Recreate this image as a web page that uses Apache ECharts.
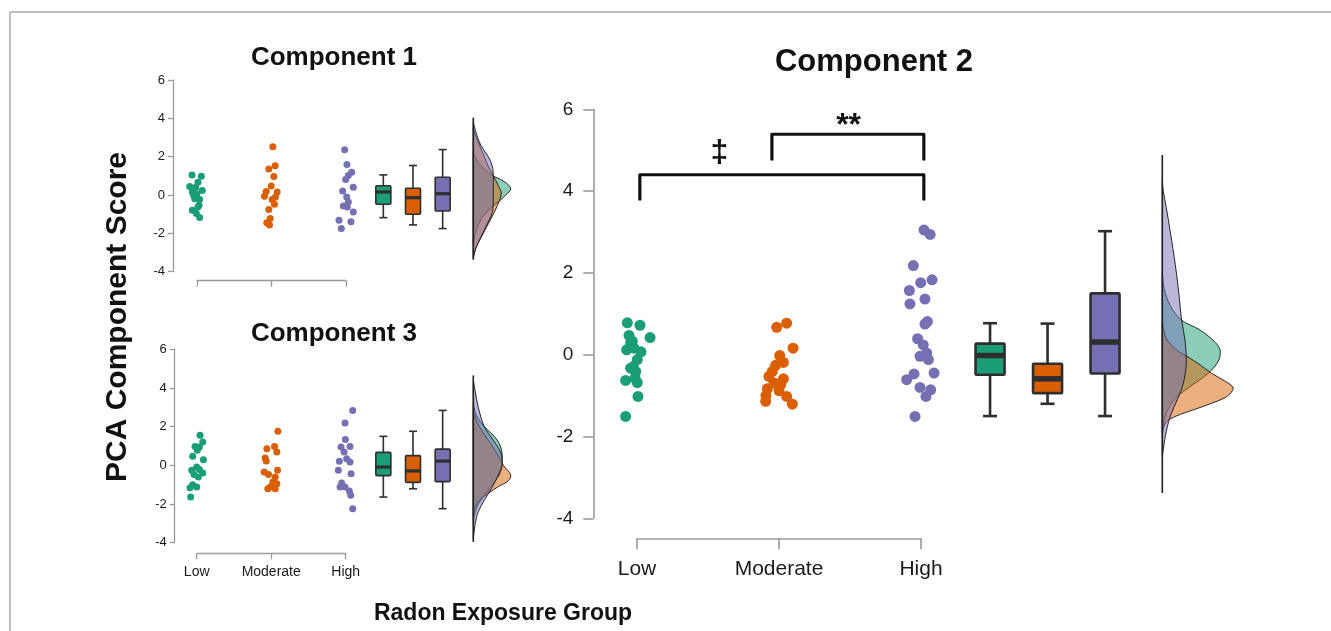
<!DOCTYPE html>
<html>
<head>
<meta charset="utf-8">
<script src="https://cdn.jsdelivr.net/npm/echarts@6/dist/echarts.min.js"></script>
<style>
html,body{margin:0;padding:0;background:#fff}
#main{width:1331px;height:631px}
</style>
</head>
<body>
<div id="main"></div>
<script>
var groups = ['Low', 'Moderate', 'High'];
var groupColors = ['#1b9e77', '#d95f02', '#7570b3'];
var densFill = ['rgba(27,158,119,0.5)', 'rgba(217,95,2,0.5)', 'rgba(117,112,179,0.5)'];
var yMin = -4, yMax = 6, yStep = 2;

// Component 1 - scores and horizontal jitter
var c1Low = [1.05, 0.98, 0.67, 0.45, 0.41, 0.24, 0.16, 0.07, -0.02, -0.19, -0.24, -0.53, -0.62, -0.79, -0.97, -1.17];
var c1LowJit = [-0.067, 0.058, 0.013, -0.098, -0.018, 0.071, -0.063, 0, -0.045, -0.031, 0.036, 0.027, 0.013, -0.063, -0.009, 0.036];
var c1Mod = [2.52, 1.53, 1.36, 0.97, 0.47, 0.19, 0.16, -0.07, -0.10, -0.24, -0.48, -0.76, -1.22, -1.45, -1.57];
var c1ModJit = [0.018, 0.049, -0.036, 0.031, -0.004, -0.071, 0.076, -0.094, 0.054, 0.009, 0.040, -0.036, -0.018, -0.063, -0.027];
var c1High = [2.36, 1.59, 1.19, 1.02, 0.81, 0.41, 0.21, -0.10, -0.36, -0.57, -0.62, -0.88, -1.31, -1.40, -1.74];
var c1HighJit = [-0.018, 0.013, 0.076, 0.031, -0.004, 0.098, -0.045, 0.009, 0.031, -0.036, 0.018, 0.098, -0.094, 0.067, -0.063];
// min, q1, median, q3, max
var c1BoxLow = [-1.18, -0.48, 0.16, 0.48, 1.05];
var c1BoxMod = [-1.56, -1.0, -0.14, 0.35, 1.54];
var c1BoxHigh = [-1.75, -0.83, 0.07, 0.93, 2.37];
// [score, density]
var c1DensLow = [[2.2,0],[1.7,0.1],[1.1,0.33],[0.7,0.62],[0.33,0.75],[0,0.65],[-0.36,0.5],[-0.8,0.3],[-1.3,0.15],[-2,0.04],[-2.6,0]];
var c1DensMod = [[3.5,0],[3.0,0.06],[2.5,0.14],[2.0,0.22],[1.5,0.3],[1.0,0.4],[0.5,0.5],[0.1,0.56],[-0.3,0.52],[-0.9,0.42],[-1.5,0.3],[-2.1,0.18],[-2.7,0.06],[-3.2,0]];
var c1DensHigh = [[3.8,0],[3.3,0.05],[2.6,0.15],[2.0,0.3],[1.5,0.38],[1.0,0.4],[0.3,0.4],[-0.3,0.4],[-0.9,0.38],[-1.5,0.28],[-2.2,0.15],[-2.8,0.05],[-3.3,0]];
var c1Spine = [-3.38, 4.04];

// Component 3
var c3Low = [1.55, 1.21, 0.98, 0.95, 0.78, 0.47, 0.29, -0.09, -0.22, -0.26, -0.40, -0.47, -0.60, -1.00, -1.12, -1.16, -1.64];
var c3LowJit = [0.045, 0.081, -0.022, 0.036, 0.009, -0.054, 0.090, 0, 0.036, -0.067, 0.081, -0.036, 0.022, -0.054, 0, -0.090, -0.081];
var c3Mod = [1.76, 0.98, 0.86, 0.69, 0.38, 0.22, -0.26, -0.34, -0.47, -0.60, -0.86, -0.95, -1.12, -1.21, -1.21];
var c3ModJit = [0.090, 0.045, -0.058, 0.076, -0.081, -0.067, 0.085, -0.094, -0.036, 0.054, 0.022, 0.076, -0.013, -0.045, 0.054];
var c3High = [2.84, 2.19, 1.34, 0.98, 0.95, 0.69, 0.34, 0.21, 0.17, -0.26, -0.43, -0.91, -1.12, -1.12, -1.33, -1.55, -2.24];
var c3HighJit = [0.094, -0.009, -0.004, 0.058, -0.063, -0.022, 0.013, -0.085, 0.058, -0.099, 0.072, -0.054, -0.009, -0.076, 0.049, 0.067, 0.094];
var c3BoxLow = [-1.64, -0.53, -0.09, 0.67, 1.5];
var c3BoxMod = [-1.21, -0.88, -0.29, 0.5, 1.76];
var c3BoxHigh = [-2.24, -0.84, 0.22, 0.84, 2.84];
var c3DensLow = [[3.2,0],[2.6,0.06],[2.0,0.22],[1.5,0.42],[1.0,0.54],[0.5,0.58],[0,0.58],[-0.5,0.52],[-1.0,0.38],[-1.5,0.24],[-2.0,0.1],[-2.6,0.02],[-3.0,0]];
var c3DensMod = [[2.8,0],[2.2,0.08],[1.6,0.22],[1.0,0.38],[0.5,0.5],[0,0.6],[-0.5,0.75],[-0.8,0.7],[-1.1,0.5],[-1.45,0.3],[-1.8,0.12],[-2.2,0.03],[-2.6,0]];
var c3DensHigh = [[4.4,0],[3.8,0.04],[3.0,0.1],[2.0,0.22],[1.3,0.4],[0.7,0.54],[0.1,0.58],[-0.5,0.5],[-1.2,0.36],[-1.8,0.22],[-2.4,0.1],[-3.0,0.04],[-3.8,0]];
var c3Spine = [-3.96, 4.65];

// Component 2
var c2Low = [0.78, 0.72, 0.47, 0.42, 0.33, 0.29, 0.16, 0.12, 0.07, -0.12, -0.29, -0.33, -0.41, -0.57, -0.63, -0.68, -1.02, -1.51];
var c2LowJit = [-0.068, 0.021, -0.056, 0.092, -0.033, -0.045, -0.021, -0.073, 0.028, 0.002, -0.026, -0.045, -0.009, -0.014, -0.080, 0.002, 0.007, -0.080];
var c2Mod = [0.77, 0.67, 0.16, -0.02, -0.19, -0.26, -0.41, -0.53, -0.59, -0.69, -0.73, -0.83, -0.88, -1.00, -1.02, -1.14, -1.21];
var c2ModJit = [0.054, -0.016, 0.099, 0.005, 0.031, -0.024, -0.047, -0.071, 0.031, -0.035, 0.012, -0.082, 0, -0.092, 0.054, -0.094, 0.094];
var c2High = [3.05, 2.94, 2.18, 1.83, 1.76, 1.57, 1.36, 1.24, 0.81, 0.75, 0.39, 0.24, 0.04, -0.04, -0.12, -0.45, -0.47, -0.61, -0.80, -0.86, -1.02, -1.51];
var c2HighJit = [0.021, 0.064, -0.054, 0.078, -0.002, -0.082, 0.028, -0.078, 0.045, 0.028, -0.024, 0.016, 0.040, -0.007, 0.052, 0.092, -0.049, -0.101, -0.007, 0.068, 0.035, -0.042];
var c2BoxLow = [-1.5, -0.49, -0.02, 0.27, 0.77];
var c2BoxMod = [-1.2, -0.94, -0.59, -0.22, 0.76];
var c2BoxHigh = [-1.5, -0.46, 0.31, 1.5, 3.02];
var c2DensLow = [[2.0,0],[1.6,0.02],[1.2,0.08],[0.85,0.19],[0.6,0.38],[0.3,0.53],[0.1,0.58],[-0.1,0.57],[-0.33,0.51],[-0.57,0.4],[-0.81,0.26],[-1.1,0.12],[-1.5,0.03],[-2.0,0]];
var c2DensMod = [[0.8,0],[0.4,0.04],[0.1,0.15],[0,0.22],[-0.2,0.35],[-0.45,0.49],[-0.65,0.63],[-0.81,0.71],[-0.95,0.68],[-1.06,0.62],[-1.2,0.48],[-1.34,0.32],[-1.5,0.14],[-1.65,0.04],[-1.9,0]];
var c2DensHigh = [[4.3,0],[4.0,0.01],[3.6,0.04],[3.0,0.08],[2.2,0.13],[1.4,0.17],[0.9,0.19],[0.3,0.23],[-0.2,0.24],[-0.7,0.21],[-1.1,0.15],[-1.5,0.08],[-2.0,0.03],[-2.5,0]];
var c2Spine = [-3.38, 4.88];

// significance brackets on component 2 (x in group units, y in score units)
var brLeft = [1.02, 1.95];
var brRight = [3.02, 3.02];
var brTop = [4.40, 5.39];
var brFoot = [3.77, 4.75];
var brMark = ['\u2021', '**'];
var brMarkX = [1.58, 2.49];
var brMarkY = [4.92, 5.58];

var FONT = '"Liberation Sans", Arial, sans-serif';

// layout of the three panels
var panels = [
  { scatter: {left: 197, top: 80, width: 149, height: 191.7}, yOff: 24, xOff: 9,
    boxLeft: 368.5, boxW: 89, densLeft: 473.3, densW: 50,
    dot: 7, tickFont: 13, xLabels: false, tickLen: 5, axisW: 1.3, lblMargin: 8,
    boxPx: 15, capPx: 8, boxLw: 1.6, medLw: 3.2,
    data: [[c1Low, c1LowJit], [c1Mod, c1ModJit], [c1High, c1HighJit]],
    box: [c1BoxLow, c1BoxMod, c1BoxHigh], dens: [c1DensLow, c1DensMod, c1DensHigh], spine: c1Spine },
  { scatter: {left: 196.7, top: 349.3, width: 149, height: 193.4}, yOff: 22, xOff: 10.6,
    boxLeft: 368.5, boxW: 89, densLeft: 473.3, densW: 50,
    dot: 7, tickFont: 13, xLabels: true, xFont: 14, tickLen: 5, axisW: 1.3, lblMargin: 8, xMargin: 12,
    boxPx: 15, capPx: 8, boxLw: 1.6, medLw: 3.2,
    data: [[c3Low, c3LowJit], [c3Mod, c3ModJit], [c3High, c3HighJit]],
    box: [c3BoxLow, c3BoxMod, c3BoxHigh], dens: [c3DensLow, c3DensMod, c3DensHigh], spine: c3Spine },
  { scatter: {left: 637, top: 109.3, width: 284, height: 409}, yOff: 43.7, xOff: 20,
    boxLeft: 961.3, boxW: 172.5, densLeft: 1162.3, densW: 100,
    dot: 11, tickFont: 19, xLabels: true, xFont: 21, tickLen: 10, axisW: 1.6, lblMargin: 20, xMargin: 20,
    boxPx: 29, capPx: 14, boxLw: 2.6, medLw: 5.5,
    data: [[c2Low, c2LowJit], [c2Mod, c2ModJit], [c2High, c2HighJit]],
    box: [c2BoxLow, c2BoxMod, c2BoxHigh], dens: [c2DensLow, c2DensMod, c2DensHigh], spine: c2Spine }
];

var grids = [], xAxes = [], yAxes = [], series = [];

function boxRenderer(p) {
  return function (params, api) {
    var x = api.value(0);
    var pMin = api.coord([x, api.value(1)]);
    var pQ1 = api.coord([x, api.value(2)]);
    var pMed = api.coord([x, api.value(3)]);
    var pQ3 = api.coord([x, api.value(4)]);
    var pMax = api.coord([x, api.value(5)]);
    var cx = pMin[0];
    var st = {stroke: '#2e2e2e', lineWidth: p.boxLw, fill: null};
    var hb = p.boxPx / 2, hc = p.capPx / 2;
    return {
      type: 'group',
      children: [
        {type: 'line', shape: {x1: cx, y1: pMax[1], x2: cx, y2: pQ3[1]}, style: st},
        {type: 'line', shape: {x1: cx, y1: pQ1[1], x2: cx, y2: pMin[1]}, style: st},
        {type: 'line', shape: {x1: cx - hc, y1: pMax[1], x2: cx + hc, y2: pMax[1]}, style: st},
        {type: 'line', shape: {x1: cx - hc, y1: pMin[1], x2: cx + hc, y2: pMin[1]}, style: st},
        {type: 'rect', shape: {x: cx - hb, y: pQ3[1], width: p.boxPx, height: pQ1[1] - pQ3[1], r: 1},
          style: {fill: groupColors[params.dataIndex], stroke: '#2e2e2e', lineWidth: p.boxLw}},
        {type: 'line', shape: {x1: cx - hb, y1: pMed[1], x2: cx + hb, y2: pMed[1]},
          style: {stroke: '#2e2e2e', lineWidth: p.medLw}}
      ]
    };
  };
}

function densRenderer(dens, fill) {
  return function (params, api) {
    var pts = dens.map(function (d) { return api.coord([d[1], d[0]]); });
    return {
      type: 'polygon',
      shape: {points: pts, smooth: 0.35, smoothConstraint: [pts[0], pts[pts.length - 1]]},
      style: {fill: fill, stroke: '#262626', lineWidth: 1}
    };
  };
}

function spineRenderer(rng) {
  return function (params, api) {
    var a = api.coord([0, rng[0]]);
    var b = api.coord([0, rng[1]]);
    return {type: 'line', shape: {x1: a[0], y1: a[1], x2: b[0], y2: b[1]},
      style: {stroke: '#222', lineWidth: 1.6}};
  };
}

panels.forEach(function (p, k) {
  var g0 = grids.length;
  var s = p.scatter;
  grids.push({left: s.left, top: s.top, width: s.width, height: s.height});
  grids.push({left: p.boxLeft, top: s.top, width: p.boxW, height: s.height});
  grids.push({left: p.densLeft, top: s.top, width: p.densW, height: s.height});

  xAxes.push({
    gridIndex: g0, type: 'value', min: 1, max: 3, interval: 1, position: 'bottom', offset: p.xOff,
    axisLine: {show: true, onZero: false, lineStyle: {color: '#9a9a9a', width: p.axisW}},
    axisTick: {show: true, length: p.tickLen + 1, lineStyle: {color: '#9a9a9a', width: p.axisW}},
    axisLabel: {show: p.xLabels, fontSize: p.xFont || 12, color: '#1a1a1a', fontFamily: FONT,
      margin: p.xMargin || 10, formatter: function (v) { return groups[Math.round(v) - 1] || ''; }},
    splitLine: {show: false}
  });
  yAxes.push({
    gridIndex: g0, type: 'value', min: yMin, max: yMax, interval: yStep, position: 'left', offset: p.yOff,
    axisLine: {show: true, onZero: false, lineStyle: {color: '#9a9a9a', width: p.axisW}},
    axisTick: {show: true, length: p.tickLen, lineStyle: {color: '#9a9a9a', width: p.axisW}},
    axisLabel: {fontSize: p.tickFont, color: '#1a1a1a', fontFamily: FONT, margin: p.lblMargin},
    splitLine: {show: false}
  });
  xAxes.push({gridIndex: g0 + 1, type: 'value', min: 0.5, max: 3.5, show: false});
  yAxes.push({gridIndex: g0 + 1, type: 'value', min: yMin, max: yMax, show: false});
  xAxes.push({gridIndex: g0 + 2, type: 'value', min: 0, max: 1, show: false});
  yAxes.push({gridIndex: g0 + 2, type: 'value', min: yMin, max: yMax, show: false});

  p.data.forEach(function (gd, gi) {
    series.push({
      type: 'scatter', xAxisIndex: g0, yAxisIndex: g0, clip: false, silent: true,
      symbolSize: p.dot, itemStyle: {color: groupColors[gi], opacity: 1},
      data: gd[0].map(function (v, i) { return [gi + 1 + gd[1][i], v]; })
    });
  });

  series.push({
    type: 'custom', xAxisIndex: g0 + 1, yAxisIndex: g0 + 1, clip: false, silent: true,
    renderItem: boxRenderer(p),
    data: p.box.map(function (b, gi) { return [gi + 1].concat(b); })
  });

  p.dens.forEach(function (d, gi) {
    series.push({
      type: 'custom', xAxisIndex: g0 + 2, yAxisIndex: g0 + 2, clip: false, silent: true,
      renderItem: densRenderer(d, densFill[gi]), data: [[0, 0]]
    });
  });
  series.push({
    type: 'custom', xAxisIndex: g0 + 2, yAxisIndex: g0 + 2, clip: false, silent: true,
    renderItem: spineRenderer(p.spine), data: [[0, 0]]
  });
});

// significance brackets on component 2 scatter grid (index 6)
series.push({
  type: 'custom', xAxisIndex: 6, yAxisIndex: 6, clip: false, silent: true,
  data: brLeft.map(function (v, i) { return [v, brRight[i], brTop[i], brFoot[i], brMarkX[i], brMarkY[i]]; }),
  renderItem: function (params, api) {
    var a = api.coord([api.value(0), api.value(3)]);
    var b = api.coord([api.value(0), api.value(2)]);
    var c = api.coord([api.value(1), api.value(2)]);
    var d = api.coord([api.value(1), api.value(3)]);
    var m = api.coord([api.value(4), api.value(5)]);
    var mark = brMark[params.dataIndex];
    return {
      type: 'group',
      children: [
        {type: 'polyline', shape: {points: [a, b, c, d]},
          style: {stroke: '#111', lineWidth: 3.2, fill: null, lineJoin: 'round', lineCap: 'butt'}},
        {type: 'text', x: m[0], y: m[1],
          style: {text: mark, fill: '#111', font: 'bold 32px ' + FONT,
            textAlign: 'center', textVerticalAlign: 'middle'}}
      ]
    };
  }
});

var chart = echarts.init(document.getElementById('main'));
chart.setOption({
  animation: false,
  backgroundColor: '#fff',
  grid: grids,
  xAxis: xAxes,
  yAxis: yAxes,
  series: series,
  graphic: [
    {type: 'line', shape: {x1: 10, y1: 12, x2: 1331, y2: 12}, style: {stroke: '#bdbdbd', lineWidth: 2}},
    {type: 'line', shape: {x1: 10, y1: 12, x2: 10, y2: 631}, style: {stroke: '#bdbdbd', lineWidth: 2}},
    {type: 'text', x: 334, y: 58, style: {text: 'Component 1', font: 'bold 26px ' + FONT, fill: '#111', textAlign: 'center', textVerticalAlign: 'middle'}},
    {type: 'text', x: 334, y: 334, style: {text: 'Component 3', font: 'bold 26px ' + FONT, fill: '#111', textAlign: 'center', textVerticalAlign: 'middle'}},
    {type: 'text', x: 874, y: 62, style: {text: 'Component 2', font: 'bold 31px ' + FONT, fill: '#111', textAlign: 'center', textVerticalAlign: 'middle'}},
    {type: 'text', x: 503, y: 614, style: {text: 'Radon Exposure Group', font: 'bold 23px ' + FONT, fill: '#111', textAlign: 'center', textVerticalAlign: 'middle'}},
    {type: 'text', x: 118, y: 317, rotation: Math.PI / 2, style: {text: 'PCA Component Score', font: 'bold 30px ' + FONT, fill: '#111', textAlign: 'center', textVerticalAlign: 'middle'}}
  ]
});
</script>
</body>
</html>
